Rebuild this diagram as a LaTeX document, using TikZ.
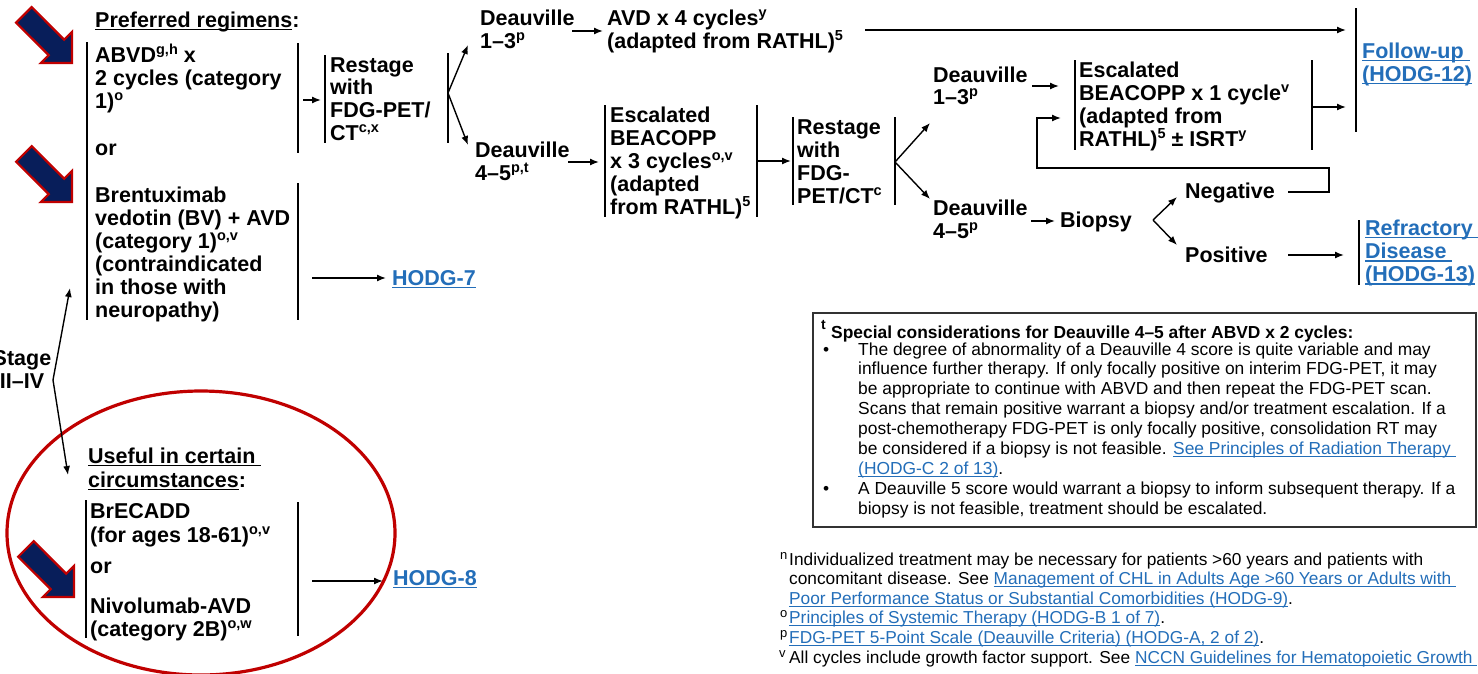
\documentclass[tikz,border=0pt]{standalone}
\usepackage{fontspec}
\setmainfont{Liberation Sans}
\usetikzlibrary{arrows.meta}
\definecolor{navy}{RGB}{8,30,90}
\definecolor{redb}{RGB}{192,0,0}
\definecolor{linkc}{RGB}{35,110,185}
\definecolor{boxc}{RGB}{50,50,50}
\newcommand\mainf{\fontsize{21.5pt}{23pt}\selectfont\bfseries}
\newcommand\boxf{\fontsize{17.4pt}{19.9pt}\selectfont}
\newcommand\ml[2]{\vtop{\baselineskip=#1\lineskiplimit=-100pt\lineskip=0pt\halign{##\hfil\cr#2\crcr}}}
\newcommand\mlc[2]{\vtop{\baselineskip=#1\lineskiplimit=-100pt\lineskip=0pt\halign{\hfil##\hfil\cr#2\crcr}}}
\newcommand\sps[1]{\raisebox{7.5pt}{\fontsize{14.5pt}{15pt}\selectfont #1}}
\newcommand\ulm[1]{\setbox0\hbox{#1}\rlap{\rule[-3.2pt]{\wd0}{1.4pt}}\box0}
\newcommand\uls[1]{\setbox0\hbox{#1}\rlap{\rule[-2.6pt]{\wd0}{1pt}}\box0}
\newcommand\lkm[1]{{\color{linkc}\ulm{#1}}}
\newcommand\lks[1]{{\color{linkc}\uls{#1}}}
\newcommand\bigarr[1]{\draw[bigarrow] (#1) -- ++(0,-31.1) -- ++(-7.8,7.8) -- ++(-32.5,-32.6) -- ++(-15.6,15.6) -- ++(32.6,32.5) -- ++(-7.8,7.8) -- cycle;}
\tikzset{
  txt/.style={anchor=base west, inner sep=0pt, font=\mainf},
  btxt/.style={anchor=base west, inner sep=0pt, font=\boxf},
  ftxt/.style={anchor=base west, inner sep=0pt, font=\fontsize{17.3pt}{19.6pt}\selectfont},
  fmark/.style={anchor=base west, inner sep=0pt, font=\fontsize{13pt}{13pt}\selectfont},
  brk/.style={line width=1.6pt},
  arr/.style={line width=1.4pt, -{Latex[length=9pt,width=7pt]}},
  bigarrow/.style={fill=navy, draw=redb, line width=2.2pt, line join=miter},
}
\begin{document}
\begin{tikzpicture}[x=1pt,y=-1pt]
\useasboundingbox (0,0) rectangle (1478,673);
\fill[white] (0,0) rectangle (1478,673);

% ---- big highlight arrows and ellipse
\coordinate (ba1) at (72,63);
\coordinate (ba2) at (72,202);
\coordinate (ba3) at (74,597);
\bigarr{ba1}
\bigarr{ba2}
\bigarr{ba3}
\coordinate (ell) at (201,533);
\draw[redb, line width=3.2pt] (ell) ellipse [x radius=194pt, y radius=142pt];

% ---- left column
\node[txt] (pref) at (95,27) {\ulm{Preferred regimens}:};
\node[txt] (abvd) at (95,62) {\ml{23pt}{ABVD\sps{g,h} x\cr 2 cycles (category\cr 1)\sps{o}}};
\node[txt] (or1) at (95,155) {or};
\node[txt] (bv) at (95,202) {\ml{23pt}{Brentuximab\cr vedotin (BV) + AVD\cr (category 1)\sps{o,v}\cr (contraindicated\cr in those with\cr neuropathy)}};
\node[txt] (h7) at (392,285) {\lkm{HODG-7}};
\node[txt, anchor=base] (stage) at (22,365) {\mlc{23pt}{Stage\cr II–IV}};
\node[txt] (useful) at (88,463) {\ml{24pt}{\ulm{Useful in certain }\cr \ulm{circumstances}:}};
\node[txt] (brec) at (90,518) {\ml{24pt}{BrECADD\cr (for ages 18-61)\sps{o,v}}};
\node[txt] (or2) at (90,573) {or};
\node[txt] (nivo) at (90,613) {\ml{23pt}{Nivolumab-AVD\cr (category 2B)\sps{o,w}}};
\node[txt] (h8) at (393,585) {\lkm{HODG-8}};

% ---- middle
\node[txt] (rs1) at (330,72) {\ml{22.7pt}{Restage\cr with\cr FDG-PET/\cr CT\sps{c,x}}};
\node[txt] (dv1) at (480,25) {\ml{23pt}{Deauville\cr 1–3\sps{p}}};
\node[txt] (avd) at (607,25) {\ml{23pt}{AVD x 4 cycles\sps{y}\cr (adapted from RATHL)\sps{5}}};
\node[txt] (dv2) at (475,157) {\ml{23pt}{Deauville\cr 4–5\sps{p,t}}};
\node[txt] (esc3) at (610,122) {\ml{23pt}{Escalated\cr BEACOPP\cr x 3 cycles\sps{o,v}\cr (adapted\cr from RATHL)\sps{5}}};
\node[txt] (rs2) at (797,134) {\ml{23pt}{Restage\cr with\cr FDG-\cr PET/CT\sps{c}}};
\node[txt] (dv3) at (933,82) {\ml{22pt}{Deauville\cr 1–3\sps{p}}};
\node[txt] (esc1) at (1079,77) {\ml{23pt}{Escalated\cr BEACOPP x 1 cycle\sps{v}\cr (adapted from\cr RATHL)\sps{5} ± ISRT\sps{y}}};
\node[txt] (fu) at (1362,58) {\ml{23pt}{\lkm{Follow-up }\cr \lkm{(HODG-12)}}};
\node[txt] (dv4) at (933,215) {\ml{23pt}{Deauville\cr 4–5\sps{p}}};
\node[txt] (bio) at (1060,227) {Biopsy};
\node[txt] (neg) at (1185,198) {Negative};
\node[txt] (pos) at (1185,262) {Positive};
\node[txt] (refr) at (1365,235) {\ml{23.3pt}{\lkm{Refractory }\cr \lkm{Disease }\cr \lkm{(HODG-13)}}};

% ---- brackets
\draw[brk] (87,42) -- (87,320);
\draw[brk] (298,43) -- (298,153);
\draw[brk] (298,183) -- (298,320);
\draw[brk] (325,55) -- (325,143);
\draw[brk] (448,53) -- (448,143);
\draw[brk] (605,105) -- (605,217);
\draw[brk] (757,105) -- (757,217);
\draw[brk] (793,117) -- (793,205);
\draw[brk] (895,117) -- (895,205);
\draw[brk] (1075,60) -- (1075,150);
\draw[brk] (1312,60) -- (1312,150);
\draw[brk] (1356,8) -- (1356,132);
\draw[brk] (1359,220) -- (1359,285);
\draw[brk] (86,500) -- (86,638);
\draw[brk] (298,502) -- (298,636);

% ---- connector coordinates
\coordinate (a1s) at (303,100); \coordinate (a1e) at (321,100);
\coordinate (f1) at (448,93); \coordinate (f1u) at (468,45); \coordinate (f1d) at (468,145);
\coordinate (a2s) at (572,31); \coordinate (a2e) at (603,31);
\coordinate (a3s) at (865,30); \coordinate (a3e) at (1346,30);
\coordinate (a4s) at (568,162); \coordinate (a4e) at (599,162);
\coordinate (a5s) at (757,161); \coordinate (a5e) at (791,161);
\coordinate (f2) at (895,162); \coordinate (f2u) at (930,123); \coordinate (f2d) at (930,199);
\coordinate (a6s) at (1032,86); \coordinate (a6e) at (1059,86);
\coordinate (a7s) at (1313,107); \coordinate (a7e) at (1346,107);
\coordinate (l1) at (1288,192); \coordinate (l2) at (1329,192); \coordinate (l3) at (1329,168);
\coordinate (l4) at (1037,168); \coordinate (l5) at (1037,118); \coordinate (l6) at (1061,118);
\coordinate (a8s) at (1031,221); \coordinate (a8e) at (1055,221);
\coordinate (f3) at (1153,220); \coordinate (f3u) at (1177,197); \coordinate (f3d) at (1177,245);
\coordinate (a9s) at (1288,255); \coordinate (a9e) at (1344,255);
\coordinate (a10s) at (312,278); \coordinate (a10e) at (386,278);
\coordinate (f4) at (53,380); \coordinate (f4u) at (70,288); \coordinate (f4d) at (68,475);
\coordinate (a11s) at (312,581); \coordinate (a11e) at (383,581);

% ---- connectors
\draw[arr] (a1s) -- (a1e);
\draw[arr] (f1) -- (f1u);
\draw[arr] (f1) -- (f1d);
\draw[arr] (a2s) -- (a2e);
\draw[arr] (a3s) -- (a3e);
\draw[arr] (a4s) -- (a4e);
\draw[arr] (a5s) -- (a5e);
\draw[arr] (f2) -- (f2u);
\draw[arr] (f2) -- (f2d);
\draw[arr] (a6s) -- (a6e);
\draw[arr] (a7s) -- (a7e);
\draw[arr, line join=miter] (l1) -- (l2) -- (l3) -- (l4) -- (l5) -- (l6);
\draw[arr] (a8s) -- (a8e);
\draw[arr] (f3) -- (f3u);
\draw[arr] (f3) -- (f3d);
\draw[arr] (a9s) -- (a9e);
\draw[arr] (a10s) -- (a10e);
\draw[arr] (f4) -- (f4u);
\draw[arr] (f4) -- (f4d);
\draw[arr] (a11s) -- (a11e);

% ---- footnote box
\coordinate (bx1) at (813,313); \coordinate (bx2) at (1476,527);
\draw[boxc, line width=2pt] (bx1) rectangle (bx2);
\node[btxt] (hdrt) at (821,329) {\fontsize{14pt}{14pt}\selectfont\bfseries t};
\node[btxt] (hdr) at (831,338) {\bfseries Special considerations for Deauville 4–5 after ABVD x 2 cycles:};
\node[btxt] (bu1) at (823,355) {•};
\node[btxt] (tx1) at (858,355) {\ml{19.9pt}{The degree of abnormality of a Deauville 4 score is quite variable and may\cr influence further therapy. If only focally positive on interim FDG-PET, it may\cr be appropriate to continue with ABVD and then repeat the FDG-PET scan.\cr Scans that remain positive warrant a biopsy and/or treatment escalation. If a\cr post-chemotherapy FDG-PET is only focally positive, consolidation RT may\cr be considered if a biopsy is not feasible. \lks{See Principles of Radiation Therapy }\cr \lks{(HODG-C 2 of 13)}.}};
\node[btxt] (bu2) at (823,494.3) {•};
\node[btxt] (tx2) at (858,494.3) {\ml{19.9pt}{A Deauville 5 score would warrant a biopsy to inform subsequent therapy. If a\cr biopsy is not feasible, treatment should be escalated.}};

% ---- footnotes
\node[fmark] (mn) at (780,559) {n};
\node[ftxt] (fn) at (789,565) {\ml{19.6pt}{Individualized treatment may be necessary for patients >60 years and patients with\cr concomitant disease. See \lks{Management of CHL in Adults Age >60 Years or Adults with }\cr \lks{Poor Performance Status or Substantial Comorbidities (HODG-9)}.}};
\node[fmark] (mo) at (780,617.8) {o};
\node[ftxt] (fo) at (789,623.8) {\lks{Principles of Systemic Therapy (HODG-B 1 of 7)}.};
\node[fmark] (mp) at (780,637.4) {p};
\node[ftxt] (fp) at (789,643.4) {\lks{FDG-PET 5-Point Scale (Deauville Criteria) (HODG-A, 2 of 2)}.};
\node[fmark] (mv) at (779,657) {v};
\node[ftxt] (fv) at (789,663) {All cycles include growth factor support. See \lks{NCCN Guidelines for Hematopoietic Growth }};
\end{tikzpicture}
\end{document}
